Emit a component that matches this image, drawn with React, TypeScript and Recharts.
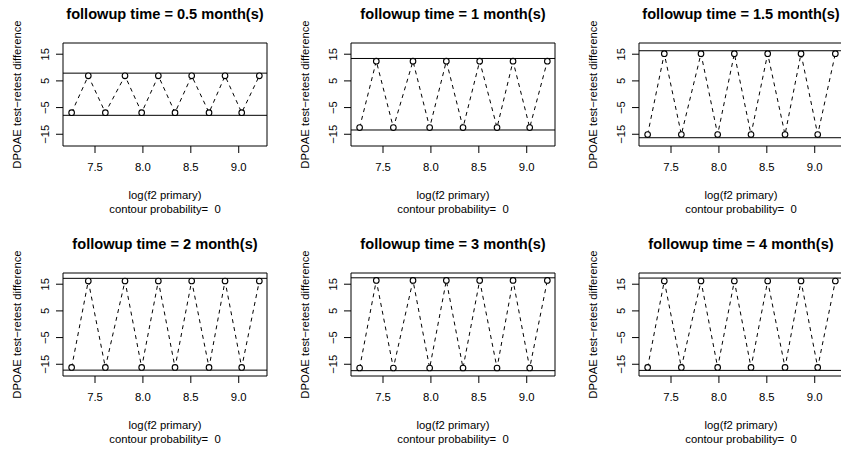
import React from 'react';
import { LineChart, Line, XAxis, YAxis, ReferenceLine, ReferenceArea } from 'recharts';

// log of the f2 primary frequency (same grid in every panel)
const logF2 = [7.256, 7.43, 7.608, 7.813, 7.987, 8.161, 8.335, 8.509, 8.69, 8.857, 9.031, 9.215];

const followupMonths = ['0.5', '1', '1.5', '2', '3', '4'];

// test-retest differences, one array per followup time
const diff05 = [-6.9, 6.9, -6.9, 6.9, -6.9, 6.9, -6.9, 6.9, -6.9, 6.9, -6.9, 6.9];
const diff1 = [-12.5, 12.4, -12.5, 12.4, -12.5, 12.4, -12.5, 12.4, -12.5, 12.4, -12.5, 12.4];
const diff15 = [-15.1, 15.2, -15.1, 15.2, -15.1, 15.2, -15.1, 15.2, -15.1, 15.2, -15.1, 15.2];
const diff2 = [-16.2, 16.2, -16.2, 16.2, -16.2, 16.2, -16.2, 16.2, -16.2, 16.2, -16.2, 16.2];
const diff3 = [-16.4, 16.4, -16.4, 16.4, -16.4, 16.4, -16.4, 16.4, -16.4, 16.4, -16.4, 16.4];
const diff4 = [-16.2, 16.2, -16.2, 16.2, -16.2, 16.2, -16.2, 16.2, -16.2, 16.2, -16.2, 16.2];
const panelDiffs = [diff05, diff1, diff15, diff2, diff3, diff4];

// upper / lower limit lines (symmetric)
const limits = [7.9, 13.4, 16.3, 17.2, 17.4, 17.3];
const contourProb = [0, 0, 0, 0, 0, 0];

const xTicks = [7.5, 8, 8.5, 9];
const yTicks = [-15, -10, -5, 0, 5, 10, 15];
const yLabelled = [-15, -5, 5, 15];

const X_DOMAIN: [number, number] = [7.166, 9.295];
const Y_DOMAIN: [number, number] = [-19.4, 19.2];

const PW = 288;
const PH = 230;
const FONT = '"Liberation Sans", Arial, Helvetica, sans-serif';
const FS = 11.3;

const minus = (v: number) => (v < 0 ? `\u2212${Math.abs(v)}` : `${v}`);

const XTick = (props: any) => {
  const { x, payload } = props;
  return (
    <text x={x} y={170.7} textAnchor="middle" fontSize={FS} fontFamily={FONT} fill="#000">
      {Number(payload.value).toFixed(1)}
    </text>
  );
};

const YTick = (props: any) => {
  const { y, payload } = props;
  if (!yLabelled.includes(payload.value)) return <g />;
  return (
    <text
      x={49}
      y={y}
      transform={`rotate(-90 49 ${y})`}
      textAnchor="middle"
      fontSize={FS}
      fontFamily={FONT}
      fill="#000"
    >
      {minus(payload.value)}
    </text>
  );
};

interface PanelProps {
  month: string;
  values: number[];
  limit: number;
  prob: number;
}

const Panel = ({ month, values, limit, prob }: PanelProps) => {
  const data = logF2.map((x, i) => ({ x, y: values[i] }));
  return (
    <div style={{ position: 'relative', width: PW, height: PH }}>
      <LineChart width={PW} height={PH} data={data} margin={{ top: 43, right: 21, bottom: 0, left: 0 }}>
        <XAxis
          dataKey="x"
          type="number"
          domain={X_DOMAIN}
          ticks={xTicks}
          allowDataOverflow
          axisLine={false}
          stroke="#000"
          tickSize={7}
          height={84}
          tick={(p: any) => <XTick {...p} />}
        />
        <YAxis
          type="number"
          domain={Y_DOMAIN}
          ticks={yTicks}
          allowDataOverflow
          axisLine={false}
          stroke="#000"
          tickSize={7}
          width={63}
          tick={(p: any) => <YTick {...p} />}
        />
        <ReferenceArea
          x1={X_DOMAIN[0]}
          x2={X_DOMAIN[1]}
          y1={Y_DOMAIN[0]}
          y2={Y_DOMAIN[1]}
          fill="none"
          fillOpacity={0}
          stroke="#000"
          strokeWidth={1}
          strokeOpacity={1}
        />
        <ReferenceLine y={limit} stroke="#000" strokeWidth={1} />
        <ReferenceLine y={-limit} stroke="#000" strokeWidth={1} />
        <Line
          type="linear"
          dataKey="y"
          stroke="#000"
          strokeWidth={1}
          strokeDasharray="4 4"
          dot={{ r: 2.8, stroke: '#000', strokeWidth: 1.1, fill: '#fff', strokeDasharray: 'none' }}
          activeDot={false}
          isAnimationActive={false}
        />
      </LineChart>
      <svg
        width={PW}
        height={PH}
        style={{ position: 'absolute', left: 0, top: 0, pointerEvents: 'none' }}
      >
        <text x={165} y={19} textAnchor="middle" fontSize={14.6} fontWeight="bold" fontFamily={FONT} fill="#000">
          {`followup time = ${month} month(s)`}
        </text>
        <text x={165} y={199} textAnchor="middle" fontSize={FS} fontFamily={FONT} fill="#000">
          log(f2 primary)
        </text>
        <text
          x={165}
          y={212.5}
          textAnchor="middle"
          fontSize={FS}
          fontFamily={FONT}
          fill="#000"
          style={{ whiteSpace: 'pre' }}
        >
          {`contour probability=  ${prob}`}
        </text>
        <text
          x={21}
          y={94.5}
          transform="rotate(-90 21 94.5)"
          textAnchor="middle"
          fontSize={FS}
          fontFamily={FONT}
          fill="#000"
        >
          DPOAE test{'\u2212'}retest difference
        </text>
      </svg>
    </div>
  );
}

export default function App() {
  return (
    <div
      style={{
        position: 'absolute',
        left: 0,
        top: 0,
        width: 841,
        height: 450,
        overflow: 'hidden',
        background: '#fff',
      }}
    >
      {followupMonths.map((m, i) => (
        <div
          key={m}
          style={{ position: 'absolute', left: (i % 3) * PW, top: Math.floor(i / 3) * PH }}
        >
          <Panel month={m} values={panelDiffs[i]} limit={limits[i]} prob={contourProb[i]} />
        </div>
      ))}
    </div>
  );
}
